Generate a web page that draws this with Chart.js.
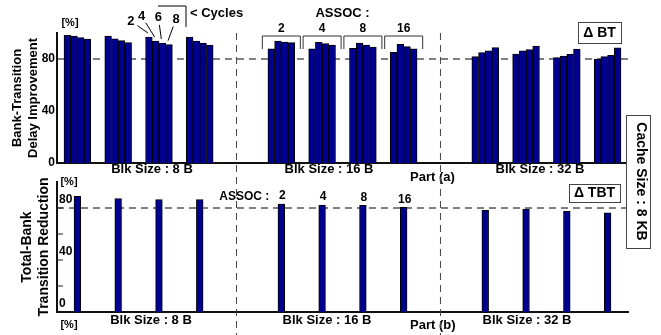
<!DOCTYPE html>
<html>
<head>
<meta charset="utf-8">
<script src="https://cdn.jsdelivr.net/npm/chart.js@4/dist/chart.umd.min.js"></script>
<style>
html, body { margin: 0; padding: 0; background: #fff; }
#wrap { position: relative; width: 661px; height: 335px; }
#wrap canvas { position: absolute; left: 0; top: 0; }
</style>
</head>
<body>
<div id="wrap">
<canvas id="btChart" width="661" height="190"></canvas>
<canvas id="tbtChart" width="661" height="335"></canvas>
</div>
<script>
var blkSizes = ['8 B', '16 B', '32 B'];
var assocs = ['2', '4', '8', '16'];
var cycles = ['2', '4', '6', '8'];

// Part (a) : Bank-Transition Delay Improvement [%]
// order : 8 B (assoc 2,4,8,16), 16 B (2,4,8,16), 32 B (2,4,8,16)
var btCycle2 = [98.2, 97.7, 96.9, 96.9, 87.9, 87.9, 88.2, 85.1, 81.8, 83.8, 81.0, 80.0];
var btCycle4 = [97.7, 95.6, 93.8, 93.8, 93.8, 92.8, 92.3, 91.3, 84.9, 86.2, 82.3, 81.8];
var btCycle6 = [96.4, 94.1, 92.3, 92.3, 93.1, 91.8, 90.8, 89.5, 86.2, 87.2, 83.6, 82.8];
var btCycle8 = [95.4, 92.6, 91.0, 90.8, 92.6, 90.8, 89.2, 87.9, 88.7, 90.0, 87.7, 88.5];

// Part (b) : Total-Bank Transition Reduction [%]
var tbtReduction = [89.0, 87.2, 86.4, 86.4, 83.0, 82.3, 82.0, 80.5, 78.2, 79.2, 77.5, 76.2];

var btTicks = [0, 40, 80];
var tbtTicks = [0, 40, 80];
var refLine = 80;

var FONT = "'Liberation Sans', Arial, sans-serif";
var BAR = '#000090';

// one empty slot between block sizes
var labels = [];
blkSizes.forEach(function (b, bi) {
    if (bi > 0) labels.push('');
    assocs.forEach(function (a) { labels.push(b + ' / ' + a); });
});

function spread(values) {
    var out = [];
    blkSizes.forEach(function (b, bi) {
        if (bi > 0) out.push(null);
        assocs.forEach(function (a, ai) { out.push(values[bi * assocs.length + ai]); });
    });
    return out;
}

function slot(bi, ai) { return bi * (assocs.length + 1) + ai; }

function txt(ctx, s, x, y, size, align) {
    ctx.font = 'bold ' + size + 'px ' + FONT;
    ctx.fillStyle = '#000';
    ctx.textAlign = align || 'center';
    ctx.textBaseline = 'middle';
    ctx.fillText(s, x, y);
}

function line(ctx, pts, color, dash) {
    ctx.save();
    ctx.strokeStyle = color || '#000';
    ctx.lineWidth = 1;
    ctx.setLineDash(dash || []);
    ctx.beginPath();
    ctx.moveTo(pts[0], pts[1]);
    for (var i = 2; i < pts.length; i += 2) ctx.lineTo(pts[i], pts[i + 1]);
    ctx.stroke();
    ctx.restore();
}

function box(ctx, x, y, w, h) {
    ctx.fillStyle = '#fff';
    ctx.fillRect(x, y, w, h);
    ctx.strokeStyle = '#444';
    ctx.lineWidth = 1;
    ctx.strokeRect(x + 0.5, y + 0.5, w, h);
}

function refLinePlugin(id) {
    return {
        id: id,
        beforeDatasetsDraw: function (chart) {
            var a = chart.chartArea, y = chart.scales.y.getPixelForValue(refLine);
            line(chart.ctx, [a.left, y, a.right + 2, y], '#000', [7, 5]);
        }
    };
}

var btNotes = {
    id: 'btNotes',
    afterDraw: function (chart) {
        var ctx = chart.ctx, xs = chart.scales.x;
        ctx.save();
        txt(ctx, '[%]', 70, 23, 11);

        // cycle labels pointing at the 8 B / assoc 8 group
        var lblDx = [-18, -14, -4, 7], lblY = [21, 16, 17, 19];
        cycles.forEach(function (c, i) {
            var bar = chart.getDatasetMeta(i).data[slot(0, 2)];
            var lx = bar.x + lblDx[i], ly = lblY[i];
            txt(ctx, c, lx, ly, 13);
            var tx = bar.x - 1, ty = bar.y - 4;
            var dx = tx - lx, dy = ty - ly, d = Math.sqrt(dx * dx + dy * dy);
            line(ctx, [lx + dx / d * 8, ly + dy / d * 8, tx, ty]);
        });
        line(ctx, [158, 6, 186, 6, 186, 27]);
        txt(ctx, '< Cycles', 190, 13, 13, 'left');

        // associativity brackets over the 16 B groups
        var c1 = xs.getPixelForValue(slot(1, 1)), c2 = xs.getPixelForValue(slot(1, 2));
        txt(ctx, 'ASSOC :', (c1 + c2) / 2, 13, 13);
        assocs.forEach(function (a, ai) {
            var cx = xs.getPixelForValue(slot(1, ai));
            txt(ctx, a, cx, 29, 12);
            line(ctx, [cx - 19, 49, cx - 19, 36, cx + 19, 36, cx + 19, 49], '#333');
        });

        box(ctx, 578, 22, 43, 21);
        txt(ctx, '\u0394 BT', 599.5, 33, 14);

        var blkX = [152, 329, 540];
        blkSizes.forEach(function (b, bi) { txt(ctx, 'Blk Size : ' + b, blkX[bi], 169, 13); });
        txt(ctx, 'Part (a)', 410, 177, 13, 'left');
        ctx.restore();
    }
};

var tbtNotes = {
    id: 'tbtNotes',
    afterDraw: function (chart) {
        var ctx = chart.ctx, xs = chart.scales.x, ys = chart.scales.y, a = chart.chartArea;
        ctx.save();
        // inward tick marks
        [20, 40, 60, 80].forEach(function (v) {
            var y = ys.getPixelForValue(v);
            line(ctx, [a.left, y, a.left + 6, y], '#222');
        });
        txt(ctx, '[%]', 69, 182, 11);
        txt(ctx, '[%]', 69, 325, 11);

        var meta = chart.getDatasetMeta(0);
        var first = meta.data[slot(1, 0)];
        txt(ctx, 'ASSOC :', first.x - 12, 197, 12, 'right');
        assocs.forEach(function (s, ai) {
            var bar = meta.data[slot(1, ai)];
            txt(ctx, s, bar.x + 1, bar.y - 8, 12);
        });

        box(ctx, 569, 184, 51, 18);
        txt(ctx, '\u0394 TBT', 594.5, 193.5, 14);

        var blkX = [151, 327, 527];
        blkSizes.forEach(function (b, bi) { txt(ctx, 'Blk Size : ' + b, blkX[bi], 320, 13); });
        txt(ctx, 'Part (b)', 410, 325, 13, 'left');

        // block separators through both parts
        [slot(1, 0) - 1, slot(2, 0) - 1].forEach(function (i) {
            var x = xs.getPixelForValue(i) - 4;
            line(ctx, [x, 33, x, 335], '#444', [7, 5]);
        });

        box(ctx, 626, 115, 24, 133);
        ctx.save();
        ctx.translate(641, 181.5);
        ctx.rotate(Math.PI / 2);
        txt(ctx, 'Cache Size : 8 KB', 0, 0, 14);
        ctx.restore();
        ctx.restore();
    }
};

function axisBorder() { return { color: '#111', width: 2 }; }

new Chart(document.getElementById('btChart'), {
    type: 'bar',
    data: {
        labels: labels,
        datasets: [btCycle2, btCycle4, btCycle6, btCycle8].map(function (vals, i) {
            return {
                label: cycles[i] + ' cycles',
                data: spread(vals),
                backgroundColor: BAR,
                borderColor: '#000',
                borderWidth: 1,
                barThickness: 6.7
            };
        })
    },
    options: {
        responsive: false,
        animation: false,
        layout: { padding: { top: 33, right: 33, left: 0, bottom: 0 } },
        plugins: { legend: { display: false }, tooltip: { enabled: false } },
        scales: {
            x: {
                ticks: { display: false },
                grid: { display: false, drawTicks: false },
                border: axisBorder(),
                afterFit: function (s) { s.height = 27; }
            },
            y: {
                min: 0,
                max: 100,
                ticks: {
                    stepSize: 40,
                    padding: 2,
                    color: '#000',
                    font: { family: FONT, size: 12, weight: 'bold' },
                    callback: function (v) { return btTicks.indexOf(v) >= 0 ? v : ''; }
                },
                grid: { display: false, drawTicks: false },
                border: axisBorder(),
                title: {
                    display: true,
                    text: ['Bank-Transition', 'Delay Improvement'],
                    color: '#000',
                    font: { family: FONT, size: 13, weight: 'bold' },
                    padding: { top: 10, bottom: 0 }
                },
                afterFit: function (s) { s.width = 57; }
            }
        }
    },
    plugins: [refLinePlugin('btRef'), btNotes]
});

new Chart(document.getElementById('tbtChart'), {
    type: 'bar',
    data: {
        labels: labels,
        datasets: [{
            label: 'Total-Bank Transition Reduction',
            data: spread(tbtReduction),
            backgroundColor: BAR,
            borderColor: '#000',
            borderWidth: 1,
            barThickness: 6.7
        }]
    },
    options: {
        responsive: false,
        animation: false,
        layout: { padding: { top: 182, right: 33, left: 0, bottom: 0 } },
        plugins: { legend: { display: false }, tooltip: { enabled: false } },
        scales: {
            x: {
                ticks: { display: false },
                grid: { display: false, drawTicks: false },
                border: axisBorder(),
                afterFit: function (s) { s.height = 23; }
            },
            y: {
                min: 0,
                max: 100,
                ticks: {
                    stepSize: 20,
                    mirror: true,
                    padding: 2,
                    labelOffset: -8,
                    color: '#000',
                    font: { family: FONT, size: 12, weight: 'bold' },
                    callback: function (v) { return tbtTicks.indexOf(v) >= 0 ? v : ''; }
                },
                grid: { display: false, drawTicks: false },
                border: axisBorder(),
                title: {
                    display: true,
                    text: ['Total-Bank', 'Transition Reduction'],
                    color: '#000',
                    font: { family: FONT, size: 14, weight: 'bold' },
                    padding: { top: 19, bottom: 0 }
                },
                afterFit: function (s) { s.width = 57; }
            }
        }
    },
    plugins: [refLinePlugin('tbtRef'), tbtNotes]
});
</script>
</body>
</html>
